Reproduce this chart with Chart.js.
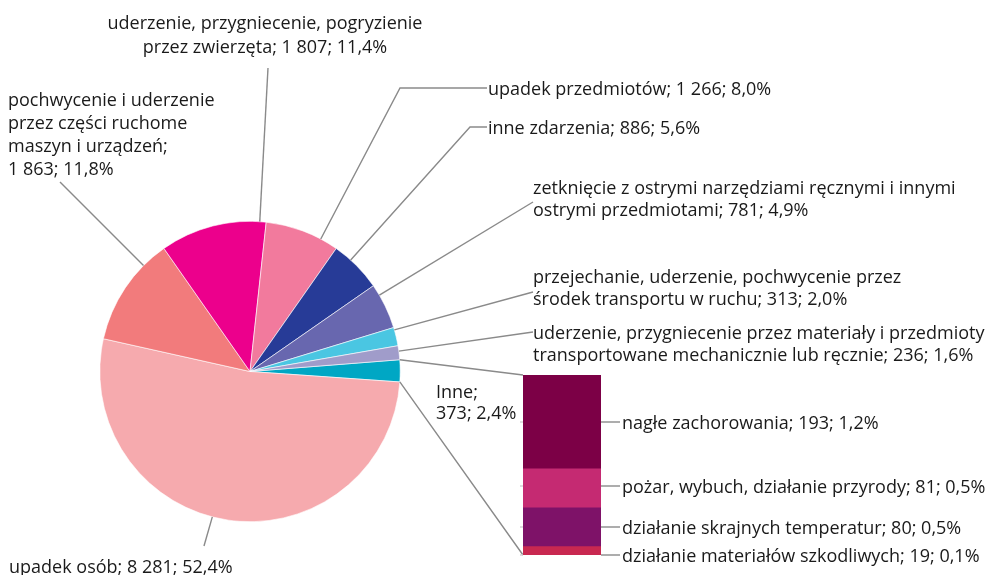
<!DOCTYPE html>
<html>
<head>
<meta charset="utf-8">
<script src="https://cdn.jsdelivr.net/npm/chart.js@4.4.1/dist/chart.umd.min.js"></script>
<style>
html,body{margin:0;padding:0;background:#fff}
#wrap{position:relative;width:994px;height:575px;overflow:hidden}
#pieChart{position:absolute;left:0;top:0}
#barChart{position:absolute;left:523px;top:375px}
.lbl{position:absolute;font-family:"Open Sans",sans-serif;font-size:18px;line-height:22px;color:#1a1a1a;white-space:pre}
</style>
</head>
<body>
<div id="wrap">
<canvas id="pieChart" width="994" height="575"></canvas>
<canvas id="barChart" width="78" height="180"></canvas>
</div>
<script>
// pie, clockwise from the "Inne" slice
const pieCategories=["Inne","upadek osób","pochwycenie i uderzenie przez części ruchome maszyn i urządzeń","uderzenie, przygniecenie, pogryzienie przez zwierzęta","upadek przedmiotów","inne zdarzenia","zetknięcie z ostrymi narzędziami ręcznymi i innymi ostrymi przedmiotami","przejechanie, uderzenie, pochwycenie przez środek transportu w ruchu","uderzenie, przygniecenie przez materiały i przedmioty transportowane mechanicznie lub ręcznie"]
const pieValues=[373,8281,1863,1807,1266,886,781,313,236]
const piePercents=["2,4%","52,4%","11,8%","11,4%","8,0%","5,6%","4,9%","2,0%","1,6%"]
const pieColors=["#00A7C4","#F6AAAE","#F27B7C","#EC008C","#F27A9D","#273B97","#6867AF","#4AC6E2","#A09CCA"]

// bar of "Inne", top to bottom
const barCategories=["nagłe zachorowania","pożar, wybuch, działanie przyrody","działanie skrajnych temperatur","działanie materiałów szkodliwych"]
const barValues=[193,81,80,19]
const barPercents=["1,2%","0,5%","0,5%","0,1%"]
const barColors=["#7C0046","#C52A72","#7E1268","#C82850"]

function fmt(v){
  return v>=1000?Math.floor(v/1000)+" "+String(v%1000).padStart(3,"0"):String(v)
}

// label placement: x, y of first line centre, breaks before given words
const pieLabelLayout=[
  {x:436,y:391,lh:21,br:["373"]},
  {x:9,y:566,br:[]},
  {x:8,y:99,lh:23,br:["przez części","maszyn","1 863"]},
  {x:265,y:22,lh:24,center:true,br:["przez zwierzęta"]},
  {x:488,y:88,br:[]},
  {x:488,y:127,br:[]},
  {x:533,y:187,br:["ostrymi przedmiotami"]},
  {x:533,y:276,br:["środek"]},
  {x:533,y:332,br:["transportowane"]}
]
const barLabelLayout=[{x:622,y:422},{x:622,y:486},{x:622,y:527},{x:622,y:555}]

// leader lines: slice index, position along arc, outer points
const leaders=[
  {i:1,f:0.533,pts:[[204,546]]},
  {i:2,f:0.76,pts:[[60,182]]},
  {i:3,f:0.94,pts:[[268,68]]},
  {i:4,f:0.76,pts:[[400,88],[487,88]]},
  {i:5,f:0.35,pts:[[470,127],[487,127]]},
  {i:6,f:0.24,pts:[[533,202]]},
  {i:7,f:0.13,pts:[[533,292]]},
  {i:8,f:0.39,pts:[[533,332]]}
]

const wrap=document.getElementById("wrap")
function addLabel(text,lay){
  let t=text
  lay.br.forEach(b=>{t=t.replace(" "+b,"\n"+b)})
  const lh=lay.lh||22
  const d=document.createElement("div")
  d.className="lbl"
  d.style.lineHeight=lh+"px"
  d.style.top=(lay.y-lh/2)+"px"
  if(lay.center){d.style.left=lay.x+"px";d.style.transform="translateX(-50%)";d.style.textAlign="center"}
  else d.style.left=lay.x+"px"
  d.textContent=t
  wrap.appendChild(d)
}
pieCategories.forEach((c,i)=>{
  addLabel(c+"; "+fmt(pieValues[i])+"; "+piePercents[i],pieLabelLayout[i])
})
barCategories.forEach((c,i)=>{
  addLabel(c+"; "+fmt(barValues[i])+"; "+barPercents[i],{x:barLabelLayout[i].x,y:barLabelLayout[i].y,br:[]})
})

const barTotal=barValues.reduce((a,b)=>a+b,0)
const barCanvas=document.getElementById("barChart")
const barChart=new Chart(barCanvas,{
  type:"bar",
  data:{
    labels:["Inne"],
    datasets:barValues.map((v,i)=>({
      label:barCategories[i],
      data:[v],
      backgroundColor:barColors[i],
      borderWidth:0,
      barPercentage:1,
      categoryPercentage:1
    }))
  },
  options:{
    responsive:false,
    animation:false,
    layout:{padding:0},
    scales:{
      x:{display:false,stacked:true},
      y:{display:false,stacked:true,reverse:true,min:0,max:barTotal}
    },
    plugins:{legend:{display:false},tooltip:{enabled:false}}
  }
})

const leaderPlugin={
  id:"leaders",
  afterDraw(chart){
    const ctx=chart.ctx
    const arcs=chart.getDatasetMeta(0).data
    const onArc=(arc,a)=>[arc.x+Math.cos(a)*arc.outerRadius,arc.y+Math.sin(a)*arc.outerRadius]
    ctx.save()
    ctx.strokeStyle="#8a8a8a"
    ctx.lineWidth=1.4
    leaders.forEach(l=>{
      const arc=arcs[l.i]
      const p=onArc(arc,arc.startAngle+(arc.endAngle-arc.startAngle)*l.f)
      ctx.beginPath()
      ctx.moveTo(p[0],p[1])
      l.pts.forEach(q=>ctx.lineTo(q[0],q[1]))
      ctx.stroke()
    })
    // connectors from the "Inne" slice to the bar
    const el=barChart.getDatasetMeta(0).data[0]
    const ox=barCanvas.offsetLeft,oy=barCanvas.offsetTop
    const bl=ox+el.x-el.width/2,br=ox+el.x+el.width/2
    const bt=oy+barChart.scales.y.getPixelForValue(0)
    const bb=oy+barChart.scales.y.getPixelForValue(barTotal)
    const arc=arcs[0]
    const s=onArc(arc,arc.startAngle),e=onArc(arc,arc.endAngle)
    ctx.beginPath()
    ctx.moveTo(s[0],s[1]);ctx.lineTo(bl,bt)
    ctx.moveTo(e[0],e[1]);ctx.lineTo(bl,bb)
    ctx.stroke()
    barLabelLayout.forEach(b=>{
      ctx.beginPath()
      ctx.moveTo(br,b.y);ctx.lineTo(b.x-2,b.y)
      ctx.stroke()
    })
    ctx.strokeStyle="#d0d0d0"
    barLabelLayout.forEach(b=>{
      ctx.beginPath()
      ctx.moveTo(bl-3,b.y);ctx.lineTo(bl,b.y)
      ctx.stroke()
    })
    ctx.restore()
  }
}

const pieChart=new Chart(document.getElementById("pieChart"),{
  type:"pie",
  data:{
    labels:pieCategories,
    datasets:[{data:pieValues,backgroundColor:pieColors,borderWidth:0.6,borderColor:"#ffffff"}]
  },
  options:{
    responsive:false,
    animation:false,
    rotation:85.5,
    layout:{padding:{left:99,top:221,right:593,bottom:53}},
    plugins:{legend:{display:false},tooltip:{enabled:false}}
  },
  plugins:[leaderPlugin]
})
</script>
</body>
</html>
